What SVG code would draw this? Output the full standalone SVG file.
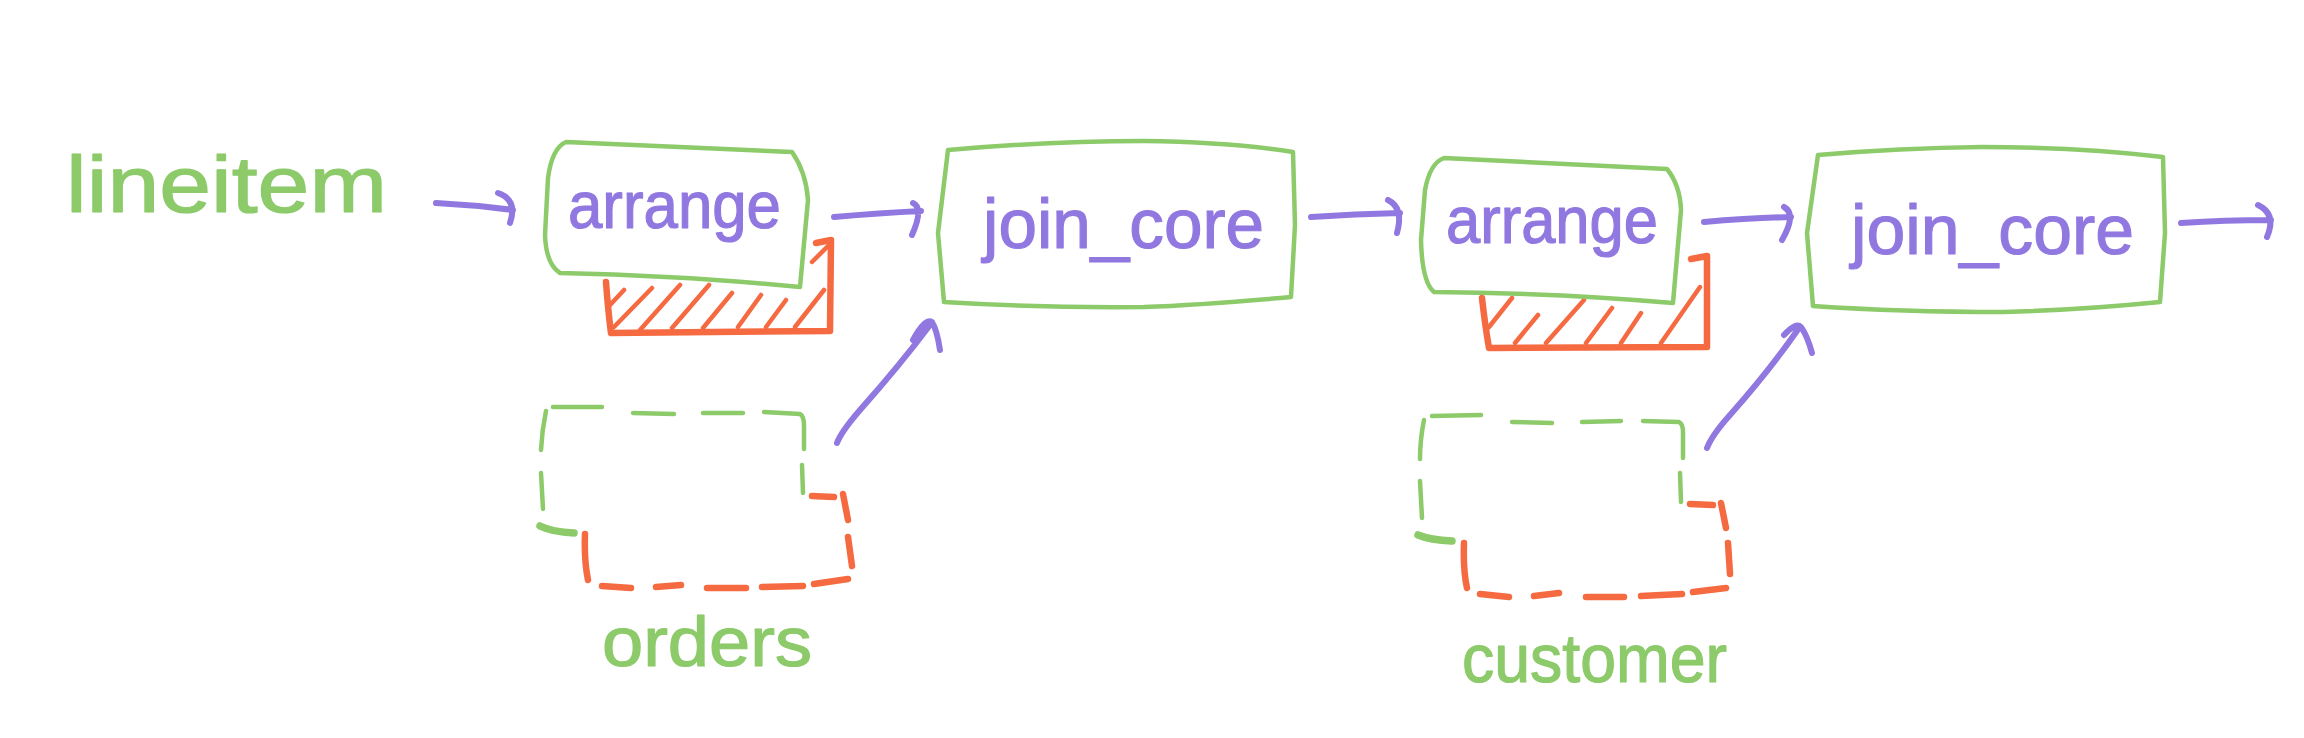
<svg xmlns="http://www.w3.org/2000/svg" width="2304" height="738" viewBox="0 0 2304 738">
<style>
.bg{fill:#ffffff}
.box{fill:none;stroke:#8cca6a;stroke-width:4.5;stroke-linecap:round;stroke-linejoin:round}
.gd{fill:none;stroke:#8cca6a;stroke-width:4.5;stroke-linecap:round;stroke-linejoin:round}
.gdt{fill:none;stroke:#8cca6a;stroke-width:7.5;stroke-linecap:round}
.rd{fill:none;stroke:#f56a40;stroke-width:6.5;stroke-linecap:round;stroke-linejoin:round}
.hatch{fill:none;stroke:#f56a40;stroke-width:4.5;stroke-linecap:round}
.edge{fill:none;stroke:#9178e0;stroke-width:6;stroke-linecap:round;stroke-linejoin:round}
.tp{font-family:"Liberation Sans","Noto Sans",sans-serif;fill:#9178e0;stroke:#9178e0;stroke-width:1.2;stroke-linejoin:round}
.tg{font-family:"Liberation Sans","Noto Sans",sans-serif;fill:#8cca6a;stroke:#8cca6a;stroke-width:1.2;stroke-linejoin:round}
</style>
<rect class="bg" x="0" y="0" width="2304" height="738"/>

<g id="lineitem">
<text class="tg" x="66" y="212" font-size="80" textLength="321" lengthAdjust="spacingAndGlyphs">lineitem</text>
</g>

<g id="arrange1">
<path class="hatch" d="M614,327 L652,288 M640,330 L680,285 M672,328 L709,285 M703,328 L732,293 M738,327 L761,295 M766,327 L786,300 M795,327 L824,290 M812,262 L829,245 M610,305 L624,290"/>
<path class="rd" d="M606,282 Q608,310 611,333 L830,331 L831,240 L816,243"/>
<path class="box" d="M566,142 L792,152 Q806,172 808,200 L800,287 Q690,276 560,273 Q546,264 545,235 L548,178 Q552,148 566,142 Z"/>
<text class="tp" x="568" y="228" font-size="66" textLength="213" lengthAdjust="spacingAndGlyphs">arrange</text>
</g>

<g id="join_core1">
<path class="box" d="M948,150 Q1050,141 1144,141 Q1230,142 1293,152 L1295,225 L1291,297 Q1200,305 1144,307 Q1040,308 944,302 L938,233 Z"/>
<text class="tp" x="983" y="248" font-size="70" textLength="281" lengthAdjust="spacingAndGlyphs">join_core</text>
</g>

<g id="orders">
<path class="gd" d="M553,407 L602,407 M633,413 L674,414 M703,413 L743,413 M764,412 L800,414 Q804,416 804,426 L804,449 M802,465 L803,493 M546,411 Q542,430 541,450 M541,473 L543,509"/>
<path class="gdt" d="M540,526 Q552,532 574,533"/>
<path class="rd" d="M812,496 L834,497 M843,494 L848,520 M848,537 L852,566 M848,579 L814,584 M803,586 L762,587 M746,588 L707,588 M681,585 L656,587 M631,588 L602,586 M585,534 Q584,560 588,580"/>
<text class="tg" x="602" y="666" font-size="70" textLength="210" lengthAdjust="spacingAndGlyphs">orders</text>
</g>

<g id="arrange2">
<path class="hatch" d="M1489,327 L1512,298 M1515,343 L1538,315 M1546,343 L1584,300 M1586,343 L1612,308 M1621,343 L1641,313 M1661,343 L1700,287"/>
<path class="rd" d="M1482,298 Q1485,325 1489,348 L1707,347 L1707,256 L1691,259"/>
<path class="box" d="M1444,158 L1667,169 Q1680,185 1681,210 L1673,303 Q1560,293 1434,292 Q1422,282 1421,240 L1425,190 Q1430,163 1444,158 Z"/>
<text class="tp" x="1446" y="243" font-size="66" textLength="212" lengthAdjust="spacingAndGlyphs">arrange</text>
</g>

<g id="customer">
<path class="gd" d="M1432,416 L1481,415 M1512,422 L1552,423 M1582,422 L1621,421 M1643,421 L1679,422 Q1683,424 1683,432 L1683,458 M1680,473 L1681,502 M1424,420 Q1420,440 1420,459 M1420,481 L1422,518"/>
<path class="gdt" d="M1418,535 Q1430,540 1452,541"/>
<path class="rd" d="M1690,504 L1713,505 M1721,503 L1726,528 M1728,543 L1730,574 M1726,588 L1693,592 M1682,594 L1641,596 M1624,597 L1586,597 M1559,593 L1534,596 M1509,597 L1480,594 M1464,543 Q1463,570 1467,588"/>
<text class="tg" x="1462" y="682" font-size="68" textLength="265" lengthAdjust="spacingAndGlyphs">customer</text>
</g>

<g id="join_core2">
<path class="box" d="M1818,155 Q1900,148 1982,147 Q2080,147 2163,157 L2165,233 L2160,302 Q2080,310 2004,312 Q1900,312 1813,306 L1807,233 Z"/>
<text class="tp" x="1851" y="254" font-size="70" textLength="283" lengthAdjust="spacingAndGlyphs">join_core</text>
</g>

<g id="connectors">
<path class="edge" d="M436,203 Q475,205 513,210 M498,193 Q518,200 510,223"/>
<path class="edge" d="M834,217 Q880,213 921,211 M913,203 Q924,208 912,235"/>
<path class="edge" d="M1311,217 Q1355,214 1400,213 M1388,200 Q1404,208 1397,233"/>
<path class="edge" d="M1704,222 Q1750,218 1791,217 M1784,207 Q1797,214 1782,240"/>
<path class="edge" d="M2181,223 Q2225,220 2271,220 M2258,205 Q2277,214 2267,237"/>
<path class="edge" d="M837,443 Q841,432 860,410 Q900,365 930,325 M913,340 Q925,318 932,322 Q937,330 940,350"/>
<path class="edge" d="M1707,448 Q1712,435 1730,415 Q1770,370 1799,328 M1784,335 Q1796,322 1801,327 Q1807,335 1812,353"/>
</g>
</svg>
